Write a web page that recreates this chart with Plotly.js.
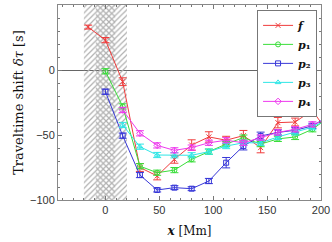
<!DOCTYPE html>
<html>
<head>
<meta charset="utf-8">
<script src="https://cdn.plot.ly/plotly-3.0.1.min.js"></script>
<style>html,body{margin:0;padding:0;background:#fff}#chart{width:332px;height:242px}</style>
</head>
<body>
<div id="chart"></div>
<script>
// Distance x [Mm]
const xPos = [-16, 0, 16, 32, 48, 64, 80, 96, 112, 128, 144, 160, 176, 192, 208];
// Travel-time shifts [s]
const fShift  = [33, 23, -9, -75, -81.5, -68.7, -57.7, -51.5, -54, -50.5, -59.7, -40.5, -40, -31, -50];
const fErr    = [1.5, 2, 3, 3, 3, 3, 4, 4, 3, 4, 4, 4, 3, 4, 4];
const p1Shift = [null, -1, -28, -74, -79, -77, -68.7, -62.8, -57, -52, -57, -53, -51.5, -45.6, -36];
const p1Err   = [null, 2, 2, 2, 2, 2, 2, 2, 2, 2, 2, 2, 2, 2, 2];
const p2Shift = [null, -16.7, -50.5, -80.8, -92.3, -90.5, -91.3, -85.4, -71.3, -58.5, -50.8, -48, -46.4, -43, -35];
const p2Err   = [null, 2, 2, 2, 1.5, 1.5, 1.5, 2, 4, 3, 3, 2, 2, 2, 2];
const p3Shift = [null, null, -42.3, -59, -65.4, -65.6, -65.6, -62.8, -58.5, -56, -56, -51.5, -48, -44, -37];
const p3Err   = [null, null, 2, 2, 2, 2, 2, 2, 2, 2, 2, 2, 2, 2, 2];
const p4Shift = [null, null, -30.8, -48.7, -58, -61.8, -59.7, -56, -54, -56, -52, -48, -45.6, -41.8, -38];
const p4Err   = [null, null, 2, 2, 2, 2, 2, 2, 2, 2, 2, 2, 2, 2, 2];
// Hatched zones
const outerZone = [-20, 20];
const innerZone = [-9, 9];
const yLimits = [-100, 50];

const names = ['<b><i>f</i></b>', '<b><i>p</i>₁</b>', '<b><i>p</i>₂</b>', '<b><i>p</i>₃</b>', '<b><i>p</i>₄</b>'];
const colors = ['#f03c3c', '#3ade3a', '#3838d8', '#2ee6e6', '#ee38ee'];
const symbols = ['x-thin-open', 'circle-open', 'square-open', 'triangle-up-open', 'diamond-open'];
const ys = [fShift, p1Shift, p2Shift, p3Shift, p4Shift];
const es = [fErr, p1Err, p2Err, p3Err, p4Err];

function box(r) {
  return {x: [r[0], r[1], r[1], r[0], r[0]], y: [yLimits[0], yLimits[0], yLimits[1], yLimits[1], yLimits[0]]};
}
const traces = [];
const ob = box(outerZone), ib = box(innerZone);
traces.push({type: 'scatter', mode: 'none', x: ob.x, y: ob.y, fill: 'toself', fillcolor: 'rgba(0,0,0,0)',
  fillpattern: {shape: '/', fgcolor: '#b0b0b0', bgcolor: 'rgba(255,255,255,0)', size: 4, solidity: 0.3},
  showlegend: false, hoverinfo: 'skip'});
traces.push({type: 'scatter', mode: 'none', x: ib.x, y: ib.y, fill: 'toself', fillcolor: 'rgba(0,0,0,0)',
  fillpattern: {shape: '\\', fgcolor: '#b0b0b0', bgcolor: 'rgba(255,255,255,0)', size: 4, solidity: 0.3},
  showlegend: false, hoverinfo: 'skip'});

for (let i = 0; i < 5; i++) {
  traces.push({
    type: 'scatter', mode: 'lines+markers', name: names[i],
    x: xPos, y: ys[i],
    line: {color: colors[i], width: 1},
    marker: {symbol: symbols[i], size: 5, color: colors[i], line: {color: colors[i], width: 1}},
    error_y: {type: 'data', array: es[i], visible: true, color: colors[i], thickness: 1, width: 4},
    connectgaps: false
  });
}

const layout = {
  width: 332, height: 242,
  margin: {l: 58, r: 11, t: 5, b: 42},
  paper_bgcolor: '#fff', plot_bgcolor: '#fff',
  showlegend: true,
  legend: {x: 0.985, xanchor: 'right', y: 0.975, yanchor: 'top', bgcolor: '#fff',
    bordercolor: '#777', borderwidth: 1, font: {family: 'DejaVu Serif', size: 11, color: '#111'},
    tracegroupgap: 0, itemwidth: 30},
  xaxis: {range: [-44, 200], tickvals: [0, 50, 100, 150, 200], ticks: 'inside', ticklen: 4, tickcolor: '#777',
    minor: {dtick: 10, tick0: 0, ticks: 'inside', ticklen: 2, tickcolor: '#777'},
    showline: true, linecolor: '#888', linewidth: 1, mirror: 'ticks', showgrid: false, zeroline: false,
    tickfont: {family: 'Liberation Sans', size: 11, color: '#333'},
    title: {text: '<b><i>x</i></b> [Mm]', font: {family: 'DejaVu Serif', size: 12, color: '#111'}, standoff: 11}},
  yaxis: {range: yLimits, tickvals: [-100, -50, 0, 50], ticks: 'inside', ticklen: 4, tickcolor: '#777',
    minor: {dtick: 10, tick0: 0, ticks: 'inside', ticklen: 2, tickcolor: '#777'},
    showline: true, linecolor: '#888', linewidth: 1, mirror: 'ticks', showgrid: false,
    zeroline: true, zerolinecolor: '#666', zerolinewidth: 1,
    tickfont: {family: 'Liberation Sans', size: 11, color: '#333'},
    title: {text: 'Traveltime shift <i>δτ</i> [s]', font: {family: 'DejaVu Serif', size: 13, color: '#111'}, standoff: 3}}
};
Plotly.newPlot('chart', traces, layout, {displayModeBar: false, staticPlot: true});
</script>
</body>
</html>
